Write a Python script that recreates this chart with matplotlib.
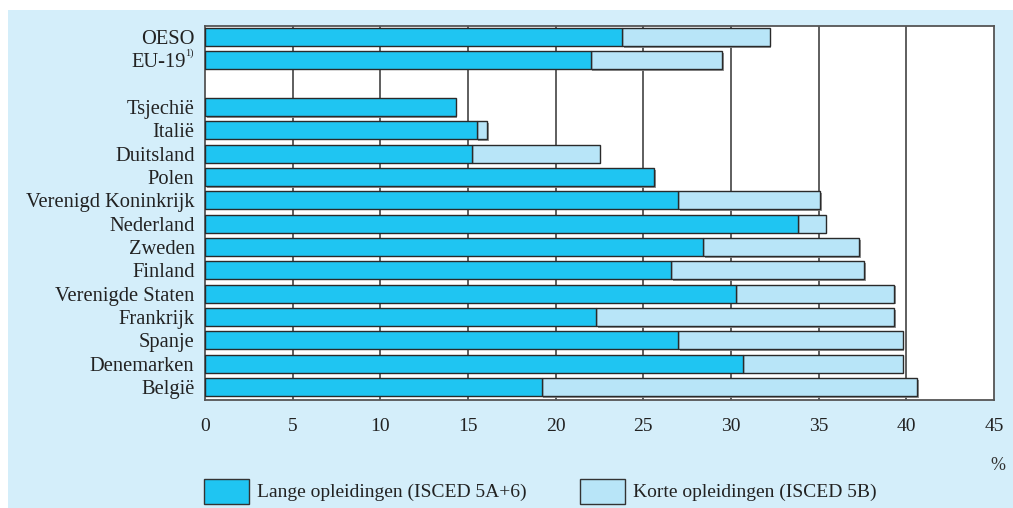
import matplotlib
matplotlib.use("Agg")
import matplotlib.pyplot as plt
from matplotlib.patches import Rectangle
import matplotlib.patheffects as pe
from matplotlib.transforms import offset_copy

categories = ["OESO", "EU-19", "", "Tsjechië", "Italië", "Duitsland", "Polen",
              "Verenigd Koninkrijk", "Nederland", "Zweden", "Finland",
              "Verenigde Staten", "Frankrijk", "Spanje", "Denemarken", "België"]
footnote = "1)"
lange = [23.8, 22.0, None, 14.3, 15.5, 15.2, 25.6, 27.0, 33.8, 28.4, 26.6, 30.3, 22.3, 27.0, 30.7, 19.2]
totaal = [32.2, 29.5, None, 14.3, 16.1, 22.5, 25.6, 35.1, 35.4, 37.3, 37.6, 39.3, 39.3, 39.8, 39.8, 40.6]
xticks = [0, 5, 10, 15, 20, 25, 30, 35, 40, 45]
legend_labels = ["Lange opleidingen (ISCED 5A+6)", "Korte opleidingen (ISCED 5B)"]

DARK = "#1fc5f2"
LIGHT = "#b8e5f8"
BG = "#d4eefa"
EDGE = "#2a2a2a"
FS = 14
FSY = 14.8

plt.rcParams['font.family'] = ['Liberation Serif', 'DejaVu Serif']
W, H = 1013, 508
fig = plt.figure(figsize=(W / 100, H / 100), dpi=100)
fig.patch.set_facecolor("white")
fig.patches.append(Rectangle((8 / W, 0), 1 - 8 / W, 1 - 10 / H, transform=fig.transFigure,
                             facecolor=BG, edgecolor="none", zorder=-10))

ax = fig.add_axes([205 / W, (H - 400) / H, (994 - 205) / W, (400 - 26) / H])
ax.set_facecolor("white")
ax.set_xlim(0, 45)
ax.set_ylim(15.56, -0.47)

for x in xticks[1:-1]:
    ax.axvline(x, color="#333333", lw=1.1, zorder=1)

shadow = [pe.SimplePatchShadow(offset=(1.2, -1.2), shadow_rgbFace="#888888", alpha=0.9), pe.Normal()]
h = 0.78
for i, (l, t) in enumerate(zip(lange, totaal)):
    if l is None:
        continue
    if t > l:
        b2 = ax.barh(i, t - l, left=l, height=h, color=LIGHT, edgecolor=EDGE, lw=1.0, zorder=2)
        b2[0].set_path_effects(shadow)
    b1 = ax.barh(i, l, height=h, color=DARK, edgecolor=EDGE, lw=1.0, zorder=3)
    if t <= l:
        b1[0].set_path_effects(shadow)

ylabels = list(categories)
eu_idx = 1
ylabels[eu_idx] = ""
ax.set_yticks(range(len(categories)))
ax.set_yticklabels(ylabels, fontsize=FSY, color="#222222")
ax.tick_params(axis="y", length=0, pad=7.5)
# EU-19 with small superscript footnote
tr_main = offset_copy(ax.get_yaxis_transform(), fig=fig, x=-19, y=0, units='dots')
tr_sup = offset_copy(ax.get_yaxis_transform(), fig=fig, x=-11, y=2, units='dots')
ax.text(0, eu_idx, categories[eu_idx], transform=tr_main, ha="right", va="center_baseline",
        fontsize=FSY, color="#222222")
ax.text(0, eu_idx, footnote, transform=tr_sup, ha="right", va="bottom",
        fontsize=7.5, color="#222222")

ax.set_xticks(xticks)
ax.set_xticklabels([str(x) for x in xticks], fontsize=FS, color="#222222")
ax.tick_params(axis="x", length=0, pad=13)
for s in ax.spines.values():
    s.set_color("#555555")
    s.set_linewidth(1.3)

fig.text(998 / W, 1 - 466 / H, "%", ha="center", va="center", fontsize=13, color="#333333")

# legend
for x0, col, lab in [(204, DARK, legend_labels[0]), (580, LIGHT, legend_labels[1])]:
    fig.patches.append(Rectangle((x0 / W, 1 - 504 / H), 45 / W, 25 / H, transform=fig.transFigure,
                                 facecolor=col, edgecolor="#333333", lw=1.0, zorder=2))
    fig.text((x0 + 53) / W, 1 - 492 / H, lab, ha="left", va="center", fontsize=FS, color="#222222")

fig.savefig("out.png", dpi=100, facecolor=fig.get_facecolor())
